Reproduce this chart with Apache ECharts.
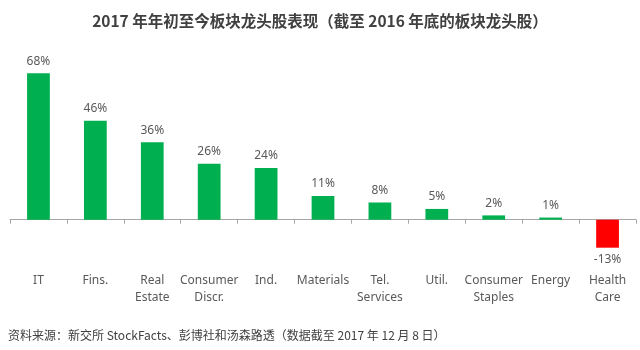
<!DOCTYPE html>
<html><head><meta charset="utf-8">
<script src="https://cdn.jsdelivr.net/npm/echarts@6/dist/echarts.min.js"></script>
<style>html,body{margin:0;padding:0;background:#fff}#c{width:640px;height:350px}</style>
</head><body><div id="c"></div>
<script>
const categories = ['IT', 'Fins.', 'Real\nEstate', 'Consumer\nDiscr.', 'Ind.', 'Materials', 'Tel.\nServices', 'Util.', 'Consumer\nStaples', 'Energy', 'Health\nCare'];
const values = [68, 46, 36, 26, 24, 11, 8, 5, 2, 1, -13];
const titleText = '2017 年年初至今板块龙头股表现（截至 2016 年底的板块龙头股）';
const sourceText = '资料来源：新交所 StockFacts、彭博社和汤森路透（数据截至 2017 年 12 月 8 日）';

const chart = echarts.init(document.getElementById('c'), null, {renderer: 'canvas'});
chart.setOption({
  animation: false,
  backgroundColor: '#ffffff',
  title: [{
    text: titleText, left: 'center', top: 8,
    textStyle: {fontFamily: 'Noto Sans CJK SC', fontSize: 15.5, fontWeight: 'bold', color: '#404040'}
  }, {
    text: sourceText, left: 3, top: 324,
    textStyle: {fontFamily: 'Noto Sans CJK SC', fontSize: 12, fontWeight: 'normal', color: '#404040'}
  }],
  grid: {left: 10, right: 4, top: 69, bottom: 98, containLabel: false},
  xAxis: {
    type: 'category', data: categories,
    axisLine: {onZero: true, lineStyle: {color: '#a6a6a6', width: 1}},
    axisTick: {show: true, alignWithLabel: false, length: 4, inside: false, lineStyle: {color: '#a6a6a6'}},
    axisLabel: {margin: 20, interval: 0, fontFamily: 'Noto Sans', fontSize: 12, color: '#595959', lineHeight: 17}
  },
  yAxis: {type: 'value', min: -15, max: 70, show: false, splitLine: {show: false}},
  series: [{
    type: 'bar', barWidth: '40%',
    data: values.map(v => ({
      value: v,
      itemStyle: {color: v < 0 ? '#ff0000' : '#00b050'},
      label: {position: v < 0 ? 'bottom' : 'top'}
    })),
    label: {show: true, distance: 6, formatter: p => p.value + '%',
      fontFamily: 'Noto Sans', fontSize: 12, color: '#595959'}
  }]
});
</script></body></html>
